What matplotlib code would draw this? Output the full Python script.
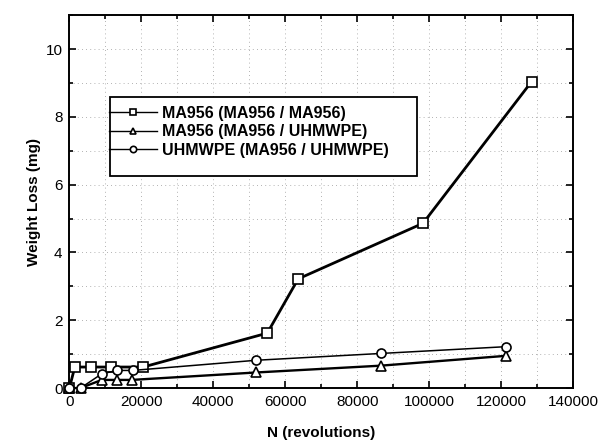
import matplotlib
matplotlib.use("Agg")
import matplotlib.pyplot as plt
from matplotlib.ticker import MultipleLocator
from matplotlib.patches import Rectangle

plt.rcParams['font.family'] = ['Liberation Sans', 'DejaVu Sans']

# Data
sq_x = [0, 1500, 6000, 11500, 20500, 55000, 63600, 98300, 128500]
sq_y = [0, 0.62, 0.62, 0.62, 0.62, 1.62, 3.22, 4.86, 9.04]

tri_x = [0, 3100, 9000, 13100, 17300, 52000, 86500, 121300]
tri_y = [0, 0, 0.24, 0.24, 0.24, 0.46, 0.66, 0.95]

cir_x = [0, 3100, 9000, 13300, 17600, 52000, 86500, 121300]
cir_y = [0, 0, 0.42, 0.52, 0.52, 0.82, 1.02, 1.22]

labels = ["MA956 (MA956 / MA956)",
          "MA956 (MA956 / UHMWPE)",
          "UHMWPE (MA956 / UHMWPE)"]

fig = plt.figure(figsize=(6.12, 4.44), dpi=100)
ax = fig.add_axes([0.1134, 0.126, 0.8229, 0.840])

ax.plot(sq_x, sq_y, '-', color='black', lw=2.0, marker='s', ms=6.5,
        mfc='white', mec='black', mew=1.2, label=labels[0], clip_on=False, zorder=3)
ax.plot(tri_x, tri_y, '-', color='black', lw=1.7, marker='^', ms=6.5,
        mfc='white', mec='black', mew=1.2, label=labels[1], clip_on=False, zorder=3)
ax.plot(cir_x, cir_y, '-', color='black', lw=1.1, marker='o', ms=6.5,
        mfc='white', mec='black', mew=1.2, label=labels[2], clip_on=False, zorder=3)

ax.set_xlim(0, 140000)
ax.set_ylim(0, 11)
ax.xaxis.set_major_locator(MultipleLocator(20000))
ax.xaxis.set_minor_locator(MultipleLocator(10000))
ax.yaxis.set_major_locator(MultipleLocator(2))
ax.yaxis.set_minor_locator(MultipleLocator(1))

ax.tick_params(which='both', direction='in', top=True, right=True,
               labelsize=11, width=1.2)
ax.tick_params(which='major', length=5, pad=5)
ax.tick_params(which='minor', length=3)

for s in ax.spines.values():
    s.set_linewidth(1.4)

ax.grid(which='both', linestyle=(0, (1, 4)), color='0.6', lw=0.6)
ax.set_axisbelow(True)

ax.set_xlabel("N (revolutions)", fontsize=11, fontweight='bold', labelpad=12)
ax.set_ylabel("Weight Loss (mg)", fontsize=11, fontweight='bold', labelpad=3)

# legend frame (drawn separately to match the reference's padding)
x0 = (110 - 69.4) / 503.6
x1 = (417 - 69.4) / 503.6
y_top = (388 - 97) / 373.0
y_bot = (388 - 176) / 373.0
ax.add_patch(Rectangle((x0, y_bot), x1 - x0, y_top - y_bot, transform=ax.transAxes,
                       facecolor='white', edgecolor='black', lw=1.3, zorder=4))

leg = ax.legend(loc='upper left', bbox_to_anchor=(x0 - 0.002, y_top - 0.023),
                borderaxespad=0, prop={'weight': 'bold', 'size': 11.5},
                frameon=False, handlelength=3.0, markerscale=0.7,
                labelspacing=0.22, borderpad=0.0, handletextpad=0.3)
leg.set_zorder(5)
for line in leg.get_lines():
    line.set_linewidth(1.0)

fig.savefig("out.png", dpi=100)
